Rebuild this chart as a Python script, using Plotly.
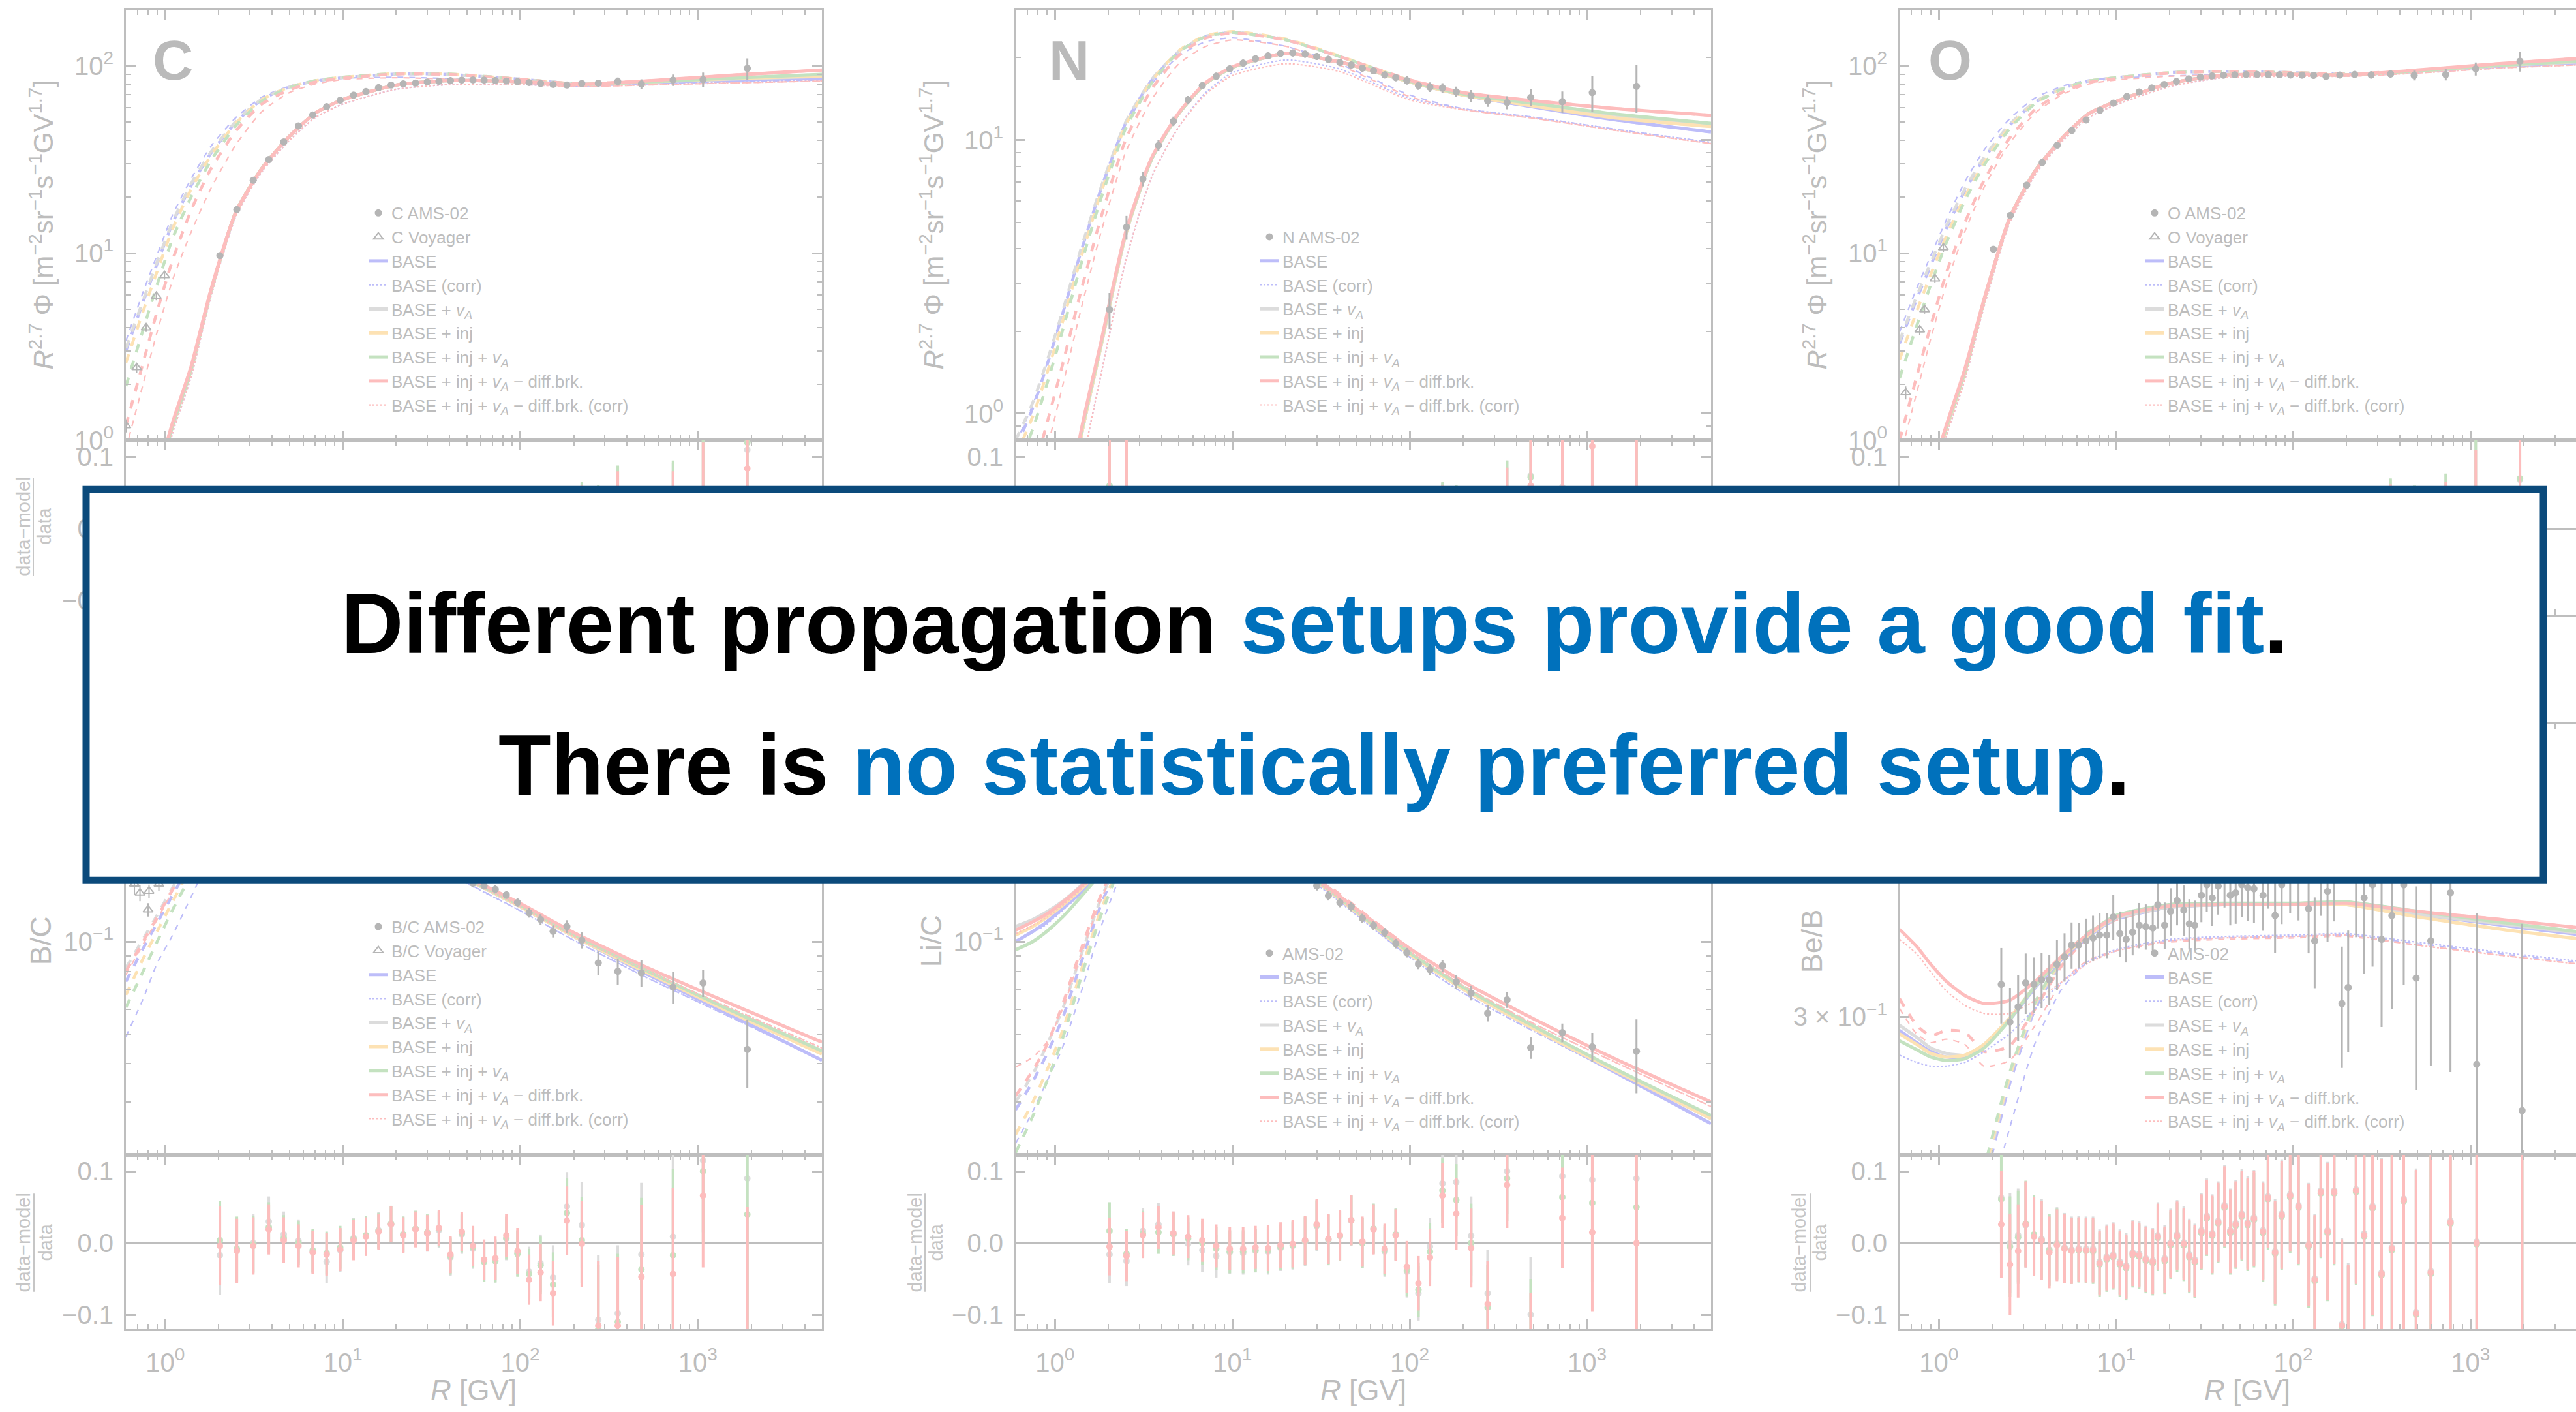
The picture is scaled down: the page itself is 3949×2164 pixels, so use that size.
import math
import plotly.graph_objects as go

W, H = 3949, 2164

# ------------------------------------------------------------------ data
R_MOD = [0.6, 0.75, 0.9, 1.1, 1.4, 1.8, 2.5, 3.5, 5, 7, 10, 20, 40, 100, 200, 500, 1500, 5000]

R_AMS = [2.03, 2.53, 3.13, 3.83, 4.65, 5.63, 6.77, 8.11, 9.67, 11.5, 13.5, 15.9, 18.7, 21.9, 25.7,
         29.9, 34.8, 40.4, 46.8, 54.1, 62.5, 72.3, 83.4, 96.4, 112, 130, 153, 183, 222, 275,
         354, 481, 725, 1070, 1900]

# ---- C
C_BASE = [0.12, 0.3, 0.6, 1.2, 2.4, 6.2, 16.5, 28.3, 42, 56, 66, 79, 83.5, 82.5, 79.5, 81.5, 84, 86]
C_BASE_CORR = [0.1, 0.26, 0.55, 1.1, 2.2, 5.8, 15.8, 27.2, 40, 53, 62.5, 75, 79.5, 79.5, 78, 80, 82, 84]
C_VA = [0.12, 0.3, 0.6, 1.2, 2.4, 6.2, 16.6, 28.4, 42, 56, 66, 79, 83.5, 82.5, 79.5, 82, 85, 88]
C_INJ = [0.12, 0.3, 0.6, 1.2, 2.4, 6.2, 16.6, 28.4, 42, 56, 66, 79, 83.5, 82.5, 79.5, 82, 85.5, 88.5]
C_INJVA = [0.12, 0.3, 0.6, 1.2, 2.4, 6.2, 16.6, 28.4, 42, 56, 66, 79, 83.5, 82.5, 79.5, 82, 86, 90]
C_BRK = [0.13, 0.32, 0.63, 1.25, 2.5, 6.3, 16.6, 28.3, 42, 56, 66, 79, 83.5, 82.5, 79.5, 83, 89, 95]
C_BRK_CORR = [0.1, 0.26, 0.55, 1.1, 2.2, 5.8, 15.8, 27.2, 40, 53, 62.5, 75, 79.5, 79.5, 77.5, 79, 81, 83]
C_BASE_LIS = [3.0, 5.5, 8.8, 14.5, 23, 34, 50, 66, 77, 83, 86.5, 90.5, 90, 85, 80.5, 81.5, 84, 86]
C_BASE_CORR_LIS = [3.4, 6.2, 9.8, 16, 25, 37, 53, 68, 78, 83.5, 86, 87, 85.5, 82, 78, 80, 82, 84]
C_VA_LIS = [3.1, 5.6, 9.0, 14.7, 23.5, 34.5, 50.5, 66.5, 77, 83, 86.5, 90.5, 90, 85, 80.5, 82, 85, 88]
C_INJ_LIS = [2.6, 4.9, 8.0, 13.5, 22, 33, 49.5, 66, 77, 83.5, 87, 91, 90.5, 85, 80.5, 82, 85.5, 88.5]
C_INJVA_LIS = [1.95, 3.9, 6.8, 12, 20, 31, 48, 65, 76.5, 83.5, 87, 91, 90.5, 85, 80.5, 82, 86, 90]
C_BRK_LIS = [1.2, 2.6, 4.9, 9.2, 17, 28, 45, 62.5, 74.5, 82, 86, 90.5, 90, 85, 80.5, 83, 89, 95]
C_BRK_CORR_LIS = [0.9, 2.0, 3.8, 7.2, 13, 22, 38, 57, 72, 80, 84.5, 86.5, 85, 81, 77.5, 79, 81, 83]
C_DATA = [9.7, 17.1, 24.5, 31.6, 39.3, 47.8, 54.7, 60.5, 65.6, 69.8, 73.0, 76.5, 79.0, 80.2, 81.0,
          82.0, 82.8, 83.5, 84.0, 84.2, 84.0, 83.6, 83.0, 82.4, 81.5, 80.5, 79.6, 79.0, 80.5, 80.9,
          82.6, 80.0, 84.0, 84.5, 97.0]
C_ERR = [0.04, 0.03, 0.025, 0.022, 0.02, 0.02, 0.02, 0.02, 0.02, 0.02, 0.02, 0.02, 0.02, 0.02, 0.02,
         0.02, 0.02, 0.02, 0.02, 0.02, 0.022, 0.022, 0.024, 0.025, 0.027, 0.03, 0.032, 0.035, 0.04, 0.045,
         0.05, 0.06, 0.07, 0.09, 0.13]
C_RES_RED = [0.01, -0.005, 0.008, 0.0, -0.01, 0.005, 0.01, -0.004, 0.003, 0.006, -0.002, 0.004, 0.0, -0.006, 0.003,
             0.008, 0.002, -0.004, 0.005, 0.0, -0.003, 0.006, 0.002, -0.005, 0.01, -0.01, 0.004, -0.012, 0.02, 0.01,
             0.03, -0.02, 0.01, 0.03, 0.084]
C_RES_GREEN = [0.015, -0.002, 0.01, 0.002, -0.008, 0.006, 0.011, -0.003, 0.004, 0.007, -0.001, 0.005, 0.001, -0.005, 0.004,
               0.009, 0.003, -0.003, 0.006, 0.001, -0.002, 0.007, 0.003, -0.004, 0.012, -0.008, 0.007, -0.008, 0.025, 0.016,
               0.038, -0.01, 0.025, 0.05, 0.12]
C_RES_GRAY = [0.005, -0.008, 0.006, -0.002, -0.012, 0.004, 0.009, -0.005, 0.002, 0.005, -0.003, 0.003, -0.001, -0.007, 0.002,
              0.007, 0.001, -0.005, 0.004, -0.001, -0.004, 0.005, 0.001, -0.006, 0.011, -0.009, 0.006, -0.01, 0.023, 0.014,
              0.036, -0.012, 0.022, 0.045, 0.11]
C_VOY_R = [0.6, 0.69, 0.78, 0.89, 0.99]
C_VOY = [1.2, 2.45, 4.0, 5.9, 7.6]

# ---- N
N_BASE = [0.02, 0.07, 0.16, 0.33, 0.82, 1.72, 4.5, 8.5, 12.5, 16.0, 18.4, 20.7, 19.3, 16.3, 14.6, 13.2, 11.8, 10.7]
N_BASE_CORR = [0.015, 0.05, 0.12, 0.26, 0.62, 1.35, 3.6, 7.3, 11.2, 14.8, 17.6, 19.6, 18.2, 14.2, 13.0, 12.1, 10.9, 9.8]
N_VA = [0.02, 0.07, 0.16, 0.33, 0.82, 1.72, 4.5, 8.5, 12.5, 16.0, 18.4, 20.7, 19.3, 16.3, 14.7, 13.5, 12.3, 11.3]
N_INJ = [0.02, 0.07, 0.16, 0.33, 0.82, 1.72, 4.5, 8.5, 12.5, 16.0, 18.4, 20.7, 19.3, 16.3, 14.6, 13.3, 12.0, 11.2]
N_INJVA = [0.02, 0.07, 0.16, 0.33, 0.84, 1.75, 4.55, 8.5, 12.5, 16.0, 18.4, 20.7, 19.3, 16.4, 14.7, 13.6, 12.4, 11.5]
N_BRK = [0.02, 0.07, 0.16, 0.34, 0.86, 1.78, 4.6, 8.6, 12.6, 16.1, 18.5, 20.7, 19.3, 16.5, 14.9, 13.9, 13.0, 12.3]
N_BRK_CORR = [0.015, 0.05, 0.12, 0.26, 0.62, 1.35, 3.6, 7.3, 11.2, 14.6, 17.2, 19.0, 17.8, 14.0, 12.9, 12.0, 10.8, 9.7]
N_BASE_LIS = [0.75, 1.05, 1.5, 2.3, 3.9, 6.5, 11.5, 16.5, 21, 23.8, 24.7, 23.2, 20.2, 16.5, 14.6, 13.2, 11.8, 10.7]
N_BASE_CORR_LIS = [0.78, 1.08, 1.52, 2.3, 3.9, 6.4, 11.2, 16.0, 20.3, 22.8, 23.6, 22.0, 19.0, 14.6, 13.0, 12.1, 10.9, 9.8]
N_VA_LIS = [0.8, 1.1, 1.55, 2.35, 4.0, 6.6, 11.6, 16.6, 21.1, 23.9, 24.8, 23.3, 20.2, 16.5, 14.7, 13.5, 12.3, 11.3]
N_INJ_LIS = [0.7, 0.98, 1.4, 2.15, 3.7, 6.3, 11.3, 16.4, 21.2, 24.0, 24.9, 23.4, 20.3, 16.5, 14.6, 13.3, 12.0, 11.2]
N_INJVA_LIS = [0.62, 0.88, 1.28, 2.0, 3.5, 6.0, 11.0, 16.1, 21.0, 23.8, 24.7, 23.2, 20.2, 16.5, 14.7, 13.6, 12.4, 11.5]
N_BRK_LIS = [0.4, 0.6, 0.92, 1.5, 2.8, 5.1, 10.0, 15.3, 20.4, 23.5, 24.6, 23.2, 20.2, 16.6, 14.9, 13.9, 13.0, 12.3]
N_BRK_CORR_LIS = [0.3, 0.47, 0.74, 1.25, 2.4, 4.5, 9.0, 14.0, 19.0, 21.9, 23.2, 22.0, 18.8, 14.4, 12.9, 12.0, 10.8, 9.7]
N_DATA = [2.4, 4.8, 7.2, 9.55, 11.7, 14.0, 15.8, 17.1, 18.2, 19.1, 19.8, 20.3, 20.7, 20.8, 20.6,
          20.2, 19.7, 19.2, 18.8, 18.3, 17.9, 17.3, 16.9, 16.5, 15.8, 15.6, 15.5, 15.0, 14.5, 13.9,
          13.7, 14.3, 13.8, 14.9, 15.7]
N_ERR = [0.15, 0.1, 0.06, 0.045, 0.04, 0.035, 0.03, 0.03, 0.03, 0.03, 0.03, 0.03, 0.03, 0.03, 0.03,
         0.03, 0.03, 0.03, 0.03, 0.03, 0.03, 0.03, 0.03, 0.035, 0.035, 0.04, 0.04, 0.045, 0.05, 0.05,
         0.055, 0.07, 0.09, 0.15, 0.2]
N_RES_RED = [0.05, 0.03, -0.01, 0.0, 0.005, -0.008, 0.01, 0.004, -0.005, 0.0, 0.006, -0.004, 0.002, 0.008, -0.002,
             0.004, -0.006, 0.0, 0.005, -0.003, 0.002, 0.006, -0.004, 0.003, -0.01, 0.01, 0.02, 0.01, 0.0, -0.02,
             0.03, 0.06, 0.04, 0.115, 0.2]
N_RES_GREEN = [0.06, 0.035, -0.006, 0.003, 0.007, -0.006, 0.011, 0.005, -0.004, 0.001, 0.007, -0.003, 0.003, 0.009, -0.001,
               0.005, -0.005, 0.001, 0.006, -0.002, 0.003, 0.008, -0.002, 0.005, -0.007, 0.014, 0.025, 0.016, 0.007, -0.012,
               0.04, 0.072, 0.055, 0.13, 0.22]
N_RES_GRAY = [0.045, 0.028, -0.012, -0.002, 0.004, -0.009, 0.009, 0.003, -0.006, -0.001, 0.005, -0.005, 0.001, 0.007, -0.003,
              0.003, -0.007, -0.001, 0.004, -0.004, 0.001, 0.006, -0.003, 0.004, -0.008, 0.013, 0.024, 0.015, 0.006, -0.013,
              0.04, 0.074, 0.058, 0.135, 0.23]

# ---- O
O_BASE = [0.12, 0.3, 0.6, 1.15, 2.3, 5.6, 15.2, 27.5, 41.5, 55.5, 64.5, 80.5, 89.0, 90.0, 89.5, 93.5, 100, 105]
O_BASE_CORR = [0.1, 0.26, 0.53, 1.05, 2.1, 5.2, 14.4, 26.3, 39.8, 53, 62, 77.5, 86.5, 88.5, 88.5, 92, 98, 103]
O_VA = [0.12, 0.3, 0.6, 1.15, 2.3, 5.6, 15.2, 27.5, 41.5, 55.5, 64.5, 80.5, 89.0, 90.0, 89.5, 93.5, 100.5, 106]
O_INJ = [0.12, 0.3, 0.6, 1.15, 2.3, 5.6, 15.2, 27.5, 41.5, 55.5, 64.5, 80.5, 89.0, 90.0, 89.5, 94, 101, 107]
O_INJVA = [0.12, 0.3, 0.6, 1.17, 2.32, 5.65, 15.3, 27.6, 41.5, 55.5, 64.5, 80.5, 89.0, 90.0, 89.5, 94, 101, 107]
O_BRK = [0.13, 0.32, 0.63, 1.2, 2.4, 5.7, 15.3, 27.5, 41.5, 55.5, 64.5, 80.5, 89.0, 90.0, 89.5, 95, 103, 111]
O_BRK_CORR = [0.1, 0.26, 0.53, 1.05, 2.1, 5.2, 14.4, 26.3, 39.8, 53, 62, 77.5, 86.5, 88, 88, 91.5, 97.5, 102]
O_BASE_LIS = [3.3, 5.7, 8.6, 13.5, 21.5, 32, 48, 64, 76, 83, 86.5, 92, 93.5, 92, 90.5, 93.5, 100, 105]
O_BASE_CORR_LIS = [3.8, 6.5, 9.7, 15, 24, 35.5, 52, 67.5, 78, 84, 86, 88.5, 89.5, 89.5, 88.5, 92, 98, 103]
O_VA_LIS = [3.4, 5.9, 8.9, 13.9, 22, 32.5, 48.5, 64.5, 76, 83, 86.5, 92, 93.5, 92, 90.5, 94, 100.5, 106]
O_INJ_LIS = [2.7, 4.9, 7.7, 12.3, 20, 30.5, 47, 63.5, 75.5, 83, 86.5, 92, 93.5, 92, 90.5, 94, 101, 107]
O_INJVA_LIS = [2.15, 4.1, 6.8, 11.3, 19, 29.5, 46, 63, 75.5, 83, 86.5, 92, 93.5, 92, 90.5, 94, 101, 107]
O_BRK_LIS = [1.0, 2.2, 4.1, 7.8, 14.5, 24.5, 41, 58.5, 72.5, 81.5, 85.5, 91.5, 93.5, 92, 90.5, 95, 103, 111]
O_BRK_CORR_LIS = [0.8, 1.8, 3.5, 6.8, 13, 22.5, 38.5, 56, 70.5, 80, 84, 88, 89, 89, 88, 91.5, 97.5, 102]
O_DATA = [10.5, 15.9, 23.1, 30.5, 37.7, 45.2, 51.4, 57.9, 63.3, 68.7, 72.6, 76.3, 79.6, 82.6, 85.3,
          87.1, 88.4, 89.2, 89.7, 90.0, 90.0, 89.9, 89.7, 89.4, 89.2, 89.0, 87.8, 89.4, 90.0, 89.5,
          90.6, 89.0, 89.9, 96.5, 106]
O_ERR = [0.04, 0.03, 0.025, 0.022, 0.02, 0.02, 0.02, 0.02, 0.02, 0.02, 0.02, 0.02, 0.02, 0.02, 0.02,
         0.02, 0.02, 0.02, 0.02, 0.02, 0.022, 0.022, 0.024, 0.025, 0.027, 0.03, 0.032, 0.035, 0.04, 0.045,
         0.05, 0.06, 0.07, 0.08, 0.12]
O_RES_RED = [0.005, 0.0, -0.006, 0.004, 0.008, -0.003, 0.002, 0.006, -0.004, 0.001, 0.003, -0.002, 0.004, 0.0, -0.005,
             0.003, 0.006, 0.0, -0.002, 0.004, 0.001, -0.003, 0.002, 0.005, -0.004, 0.0, -0.015, 0.005, 0.01, 0.0,
             0.012, -0.01, -0.005, 0.03, 0.05]
O_RES_GREEN = [0.009, 0.003, -0.003, 0.006, 0.01, -0.001, 0.003, 0.007, -0.003, 0.002, 0.004, -0.001, 0.005, 0.001, -0.004,
               0.004, 0.007, 0.001, -0.001, 0.005, 0.002, -0.002, 0.003, 0.006, -0.002, 0.003, -0.011, 0.01, 0.016, 0.007,
               0.02, 0.0, 0.007, 0.045, 0.07]
O_RES_GRAY = [0.002, -0.003, -0.008, 0.002, 0.007, -0.004, 0.001, 0.005, -0.005, 0.0, 0.002, -0.003, 0.003, -0.001, -0.006,
              0.002, 0.005, -0.001, -0.003, 0.003, 0.0, -0.004, 0.001, 0.004, -0.003, 0.002, -0.012, 0.009, 0.015, 0.006,
              0.019, -0.001, 0.006, 0.043, 0.068]
O_VOY_R = [0.65, 0.78, 0.83, 0.95, 1.06]
O_VOY = [1.8, 3.9, 5.0, 7.3, 10.7]

# ---- B/C
BC_BASE = [0.26, 0.27, 0.28, 0.29, 0.30, 0.305, 0.31, 0.31, 0.30, 0.283, 0.258, 0.207, 0.17, 0.13, 0.104, 0.079, 0.058, 0.041]
BC_BASE_CORR = [0.245, 0.255, 0.265, 0.276, 0.287, 0.295, 0.302, 0.304, 0.296, 0.28, 0.255, 0.203, 0.165, 0.126, 0.101, 0.077, 0.057, 0.041]
BC_VA = [0.265, 0.275, 0.285, 0.295, 0.303, 0.308, 0.312, 0.311, 0.301, 0.284, 0.259, 0.208, 0.17, 0.13, 0.104, 0.08, 0.06, 0.044]
BC_INJ = [0.255, 0.265, 0.275, 0.286, 0.297, 0.303, 0.309, 0.31, 0.3, 0.283, 0.258, 0.207, 0.17, 0.13, 0.104, 0.08, 0.059, 0.043]
BC_INJVA = [0.25, 0.26, 0.27, 0.282, 0.294, 0.301, 0.308, 0.309, 0.3, 0.283, 0.258, 0.208, 0.171, 0.131, 0.105, 0.081, 0.06, 0.044]
BC_BRK = [0.265, 0.275, 0.285, 0.295, 0.303, 0.308, 0.312, 0.311, 0.301, 0.285, 0.26, 0.21, 0.173, 0.133, 0.107, 0.083, 0.063, 0.047]
BC_BRK_CORR = [0.26, 0.27, 0.28, 0.29, 0.299, 0.305, 0.31, 0.309, 0.3, 0.283, 0.258, 0.207, 0.17, 0.13, 0.104, 0.081, 0.061, 0.045]
BC_BASE_LIS = [0.074, 0.095, 0.115, 0.142, 0.18, 0.23, 0.29, 0.32, 0.315, 0.293, 0.265, 0.21, 0.171, 0.13, 0.104, 0.079, 0.058, 0.041]
BC_BASE_CORR_LIS = [0.049, 0.065, 0.085, 0.105, 0.14, 0.19, 0.26, 0.3, 0.305, 0.287, 0.26, 0.205, 0.166, 0.126, 0.101, 0.077, 0.057, 0.041]
BC_VA_LIS = [0.082, 0.102, 0.122, 0.15, 0.19, 0.24, 0.30, 0.325, 0.318, 0.295, 0.266, 0.21, 0.171, 0.13, 0.104, 0.08, 0.06, 0.044]
BC_INJ_LIS = [0.067, 0.088, 0.108, 0.135, 0.175, 0.225, 0.285, 0.318, 0.315, 0.294, 0.266, 0.21, 0.171, 0.13, 0.104, 0.08, 0.059, 0.043]
BC_INJVA_LIS = [0.061, 0.08, 0.1, 0.127, 0.165, 0.215, 0.28, 0.315, 0.314, 0.294, 0.266, 0.211, 0.172, 0.131, 0.105, 0.081, 0.06, 0.044]
BC_BRK_LIS = [0.08, 0.1, 0.12, 0.148, 0.188, 0.238, 0.3, 0.325, 0.318, 0.296, 0.268, 0.213, 0.174, 0.133, 0.107, 0.083, 0.063, 0.047]
BC_BRK_CORR_LIS = [0.078, 0.098, 0.118, 0.146, 0.185, 0.235, 0.297, 0.322, 0.315, 0.293, 0.265, 0.21, 0.171, 0.13, 0.104, 0.081, 0.061, 0.045]
BC_DATA = [0.295, 0.305, 0.31, 0.31, 0.305, 0.295, 0.285, 0.272, 0.26, 0.247, 0.235, 0.222, 0.21, 0.199, 0.189,
           0.18, 0.172, 0.166, 0.16, 0.155, 0.152, 0.148, 0.142, 0.134, 0.124, 0.118, 0.108, 0.112, 0.101, 0.0852,
           0.080, 0.079, 0.071, 0.0733, 0.0445]
BC_ERR = [0.055, 0.045, 0.04, 0.035, 0.032, 0.03, 0.03, 0.03, 0.03, 0.028, 0.027, 0.025, 0.025, 0.025, 0.025,
          0.025, 0.025, 0.026, 0.027, 0.028, 0.028, 0.03, 0.03, 0.032, 0.035, 0.04, 0.045, 0.048, 0.06, 0.09,
          0.095, 0.1, 0.12, 0.1, 0.25]
BC_RES_RED = [-0.004, -0.011, -0.004, 0.019, 0.004, -0.004, -0.013, -0.016, -0.009, 0.004, 0.009, 0.016, 0.026, 0.011, 0.019,
              0.014, 0.021, -0.016, 0.016, -0.004, -0.023, -0.021, 0.011, -0.011, -0.051, -0.041, -0.07, 0.031, -0.001, -0.115,
              -0.115, -0.047, -0.043, 0.066, -0.2]
BC_RES_GREEN = [0.004, -0.008, -0.002, 0.022, 0.007, 0.0, -0.01, -0.014, -0.006, 0.006, 0.011, 0.017, 0.027, 0.012, 0.02,
                0.015, 0.02, -0.018, 0.014, -0.006, -0.026, -0.025, 0.007, -0.015, -0.043, -0.031, -0.058, 0.042, 0.004, -0.12,
                -0.11, -0.037, -0.017, 0.1, 0.04]
BC_RES_GRAY = [-0.017, -0.01, 0.0, 0.03, 0.012, 0.003, -0.012, -0.026, -0.01, 0.007, 0.01, 0.018, 0.026, 0.012, 0.02,
               0.013, 0.018, -0.02, 0.012, -0.008, -0.026, -0.025, 0.006, -0.014, -0.04, -0.028, -0.048, 0.051, 0.025, -0.107,
               -0.098, -0.016, 0.009, 0.115, 0.09]
BC_VOY_R = [0.67, 0.72, 0.8, 0.81, 0.92]
BC_VOY = [0.154, 0.144, 0.127, 0.146, 0.154]

# ---- Li/C
LIC_BASE = [0.1, 0.108, 0.116, 0.128, 0.145, 0.17, 0.215, 0.26, 0.278, 0.266, 0.244, 0.187, 0.138, 0.091, 0.07, 0.052, 0.037, 0.0255]
LIC_BASE_CORR = [0.1, 0.107, 0.114, 0.126, 0.143, 0.168, 0.212, 0.256, 0.274, 0.262, 0.24, 0.183, 0.135, 0.089, 0.068, 0.051, 0.037, 0.0255]
LIC_VA = [0.112, 0.118, 0.125, 0.135, 0.152, 0.176, 0.218, 0.262, 0.279, 0.266, 0.244, 0.187, 0.138, 0.091, 0.07, 0.052, 0.0375, 0.0265]
LIC_INJ = [0.105, 0.112, 0.12, 0.131, 0.148, 0.173, 0.216, 0.261, 0.278, 0.266, 0.244, 0.187, 0.138, 0.091, 0.07, 0.052, 0.0375, 0.0265]
LIC_INJVA = [0.094, 0.1, 0.108, 0.12, 0.14, 0.166, 0.212, 0.259, 0.278, 0.266, 0.244, 0.188, 0.139, 0.092, 0.071, 0.053, 0.038, 0.0271]
LIC_BRK = [0.109, 0.116, 0.123, 0.134, 0.151, 0.175, 0.218, 0.262, 0.279, 0.267, 0.246, 0.19, 0.141, 0.095, 0.074, 0.056, 0.041, 0.030]
LIC_BRK_CORR = [0.106, 0.113, 0.12, 0.131, 0.148, 0.172, 0.215, 0.259, 0.276, 0.264, 0.243, 0.187, 0.138, 0.093, 0.072, 0.054, 0.04, 0.029]
LIC_BASE_LIS = [0.0283, 0.035, 0.043, 0.056, 0.085, 0.13, 0.2, 0.26, 0.285, 0.273, 0.25, 0.19, 0.14, 0.091, 0.07, 0.052, 0.037, 0.0255]
LIC_BASE_CORR_LIS = [0.022, 0.028, 0.035, 0.045, 0.068, 0.11, 0.18, 0.245, 0.278, 0.268, 0.246, 0.186, 0.136, 0.089, 0.068, 0.051, 0.037, 0.0255]
LIC_VA_LIS = [0.03, 0.037, 0.046, 0.06, 0.09, 0.136, 0.205, 0.263, 0.287, 0.274, 0.25, 0.19, 0.14, 0.091, 0.07, 0.052, 0.0375, 0.0265]
LIC_INJ_LIS = [0.0235, 0.03, 0.038, 0.051, 0.08, 0.125, 0.196, 0.257, 0.284, 0.273, 0.25, 0.19, 0.14, 0.091, 0.07, 0.052, 0.0375, 0.0265]
LIC_INJVA_LIS = [0.0205, 0.027, 0.035, 0.048, 0.076, 0.12, 0.192, 0.255, 0.283, 0.273, 0.25, 0.191, 0.141, 0.092, 0.071, 0.053, 0.038, 0.0271]
LIC_BRK_LIS = [0.0314, 0.038, 0.046, 0.062, 0.094, 0.14, 0.21, 0.266, 0.289, 0.276, 0.252, 0.193, 0.143, 0.095, 0.074, 0.056, 0.041, 0.030]
LIC_BRK_CORR_LIS = [0.039, 0.042, 0.047, 0.06, 0.09, 0.135, 0.205, 0.262, 0.286, 0.274, 0.25, 0.19, 0.14, 0.093, 0.072, 0.054, 0.04, 0.029]
LIC_DATA = [0.27, 0.28, 0.285, 0.283, 0.277, 0.27, 0.262, 0.252, 0.243, 0.232, 0.22, 0.207, 0.194, 0.181, 0.167,
            0.152, 0.141, 0.134, 0.13, 0.119, 0.113, 0.107, 0.0985, 0.092, 0.0845, 0.081, 0.0834, 0.074, 0.068, 0.0584,
            0.0646, 0.0451, 0.0505, 0.0454, 0.0439]
LIC_ERR = [0.04, 0.035, 0.032, 0.03, 0.03, 0.03, 0.03, 0.03, 0.03, 0.03, 0.03, 0.032, 0.032, 0.033, 0.034,
           0.035, 0.035, 0.035, 0.035, 0.035, 0.035, 0.035, 0.036, 0.036, 0.038, 0.04, 0.045, 0.05, 0.055, 0.06,
           0.06, 0.08, 0.07, 0.11, 0.27]
LIC_RES_RED = [-0.005, -0.018, 0.011, 0.022, 0.014, 0.009, 0.004, -0.004, -0.008, -0.008, -0.006, -0.007, -0.003, -0.001, 0.004,
               0.026, 0.006, 0.011, 0.032, 0.002, 0.019, -0.008, 0.011, -0.033, -0.056, -0.02, 0.066, 0.041, -0.007, -0.085,
               0.081, -0.15, 0.035, 0.015, 0.0]
LIC_RES_GREEN = [0.017, -0.015, 0.013, 0.015, 0.012, 0.006, 0.0, -0.008, -0.012, -0.012, -0.01, -0.01, -0.006, -0.003, 0.003,
                 0.025, 0.005, 0.01, 0.032, 0.0, 0.02, -0.01, 0.012, -0.038, -0.065, -0.012, 0.073, 0.06, 0.0, -0.09,
                 0.09, -0.13, 0.064, 0.056, 0.05]
LIC_RES_GRAY = [-0.016, -0.025, 0.017, 0.026, 0.014, -0.001, -0.01, -0.018, -0.013, -0.014, -0.011, -0.012, -0.007, -0.004, 0.002,
                0.024, 0.004, 0.01, 0.031, 0.0, 0.02, -0.012, 0.012, -0.04, -0.07, -0.005, 0.083, 0.085, 0.01, -0.07,
                0.1, -0.1, 0.093, 0.088, 0.09]

# ---- Be/B
BEB_BASE = [0.292, 0.285, 0.28, 0.277, 0.277, 0.283, 0.298, 0.318, 0.337, 0.352, 0.365, 0.373, 0.375, 0.375, 0.375, 0.368, 0.36, 0.352]
BEB_BASE_CORR = [0.278, 0.274, 0.272, 0.272, 0.274, 0.28, 0.29, 0.305, 0.322, 0.335, 0.343, 0.35, 0.352, 0.353, 0.354, 0.348, 0.341, 0.334]
BEB_VA = [0.295, 0.288, 0.282, 0.279, 0.278, 0.284, 0.299, 0.319, 0.338, 0.353, 0.365, 0.373, 0.375, 0.375, 0.376, 0.368, 0.361, 0.353]
BEB_INJ = [0.29, 0.284, 0.279, 0.277, 0.278, 0.284, 0.299, 0.319, 0.338, 0.353, 0.366, 0.374, 0.375, 0.375, 0.375, 0.366, 0.357, 0.349]
BEB_INJVA = [0.286, 0.281, 0.277, 0.275, 0.276, 0.282, 0.298, 0.319, 0.339, 0.354, 0.367, 0.375, 0.376, 0.376, 0.377, 0.37, 0.362, 0.354]
BEB_BRK = [0.357, 0.345, 0.333, 0.322, 0.313, 0.308, 0.31, 0.322, 0.339, 0.354, 0.366, 0.374, 0.375, 0.375, 0.376, 0.37, 0.364, 0.357]
BEB_BRK_CORR = [0.35, 0.34, 0.328, 0.316, 0.307, 0.302, 0.302, 0.31, 0.322, 0.334, 0.342, 0.349, 0.351, 0.352, 0.353, 0.346, 0.339, 0.332]
BEB_BASE_LIS = [0.1, 0.12, 0.14, 0.165, 0.19, 0.215, 0.262, 0.305, 0.335, 0.353, 0.364, 0.373, 0.375, 0.375, 0.375, 0.368, 0.36, 0.352]
BEB_BASE_CORR_LIS = [0.1, 0.12, 0.14, 0.16, 0.18, 0.2, 0.24, 0.285, 0.318, 0.335, 0.342, 0.349, 0.351, 0.352, 0.353, 0.347, 0.34, 0.333]
BEB_VA_LIS = [0.1, 0.12, 0.14, 0.165, 0.19, 0.218, 0.265, 0.307, 0.336, 0.354, 0.365, 0.373, 0.375, 0.375, 0.376, 0.368, 0.361, 0.353]
BEB_INJ_LIS = [0.1, 0.12, 0.14, 0.165, 0.19, 0.22, 0.266, 0.308, 0.337, 0.354, 0.365, 0.374, 0.375, 0.375, 0.375, 0.366, 0.357, 0.349]
BEB_INJVA_LIS = [0.1, 0.12, 0.14, 0.165, 0.19, 0.222, 0.268, 0.309, 0.338, 0.355, 0.366, 0.375, 0.376, 0.376, 0.377, 0.37, 0.362, 0.354]
BEB_BRK_LIS = [0.311, 0.295, 0.289, 0.292, 0.291, 0.28, 0.283, 0.305, 0.333, 0.352, 0.364, 0.373, 0.375, 0.375, 0.376, 0.37, 0.364, 0.357]
BEB_BRK_CORR_LIS = [0.305, 0.29, 0.285, 0.287, 0.284, 0.272, 0.275, 0.295, 0.322, 0.336, 0.342, 0.348, 0.35, 0.351, 0.352, 0.346, 0.339, 0.332]
BEB_R = [2.25, 2.52, 2.8, 3.09, 3.44, 3.8, 4.2, 4.64, 5.12, 5.61, 6.15, 6.76, 7.41, 8.07, 8.85, 9.64, 10.5, 11.4, 12.4, 13.5,
         14.7, 16.1, 17.2, 18.8, 20.3, 22.1, 24.1, 25.9, 27.8, 30.3, 32.5, 34.9, 37.7, 40.9, 44.1, 47.3, 51.2, 55.3, 60.0, 67.5,
         72.0, 78.9, 86.0, 96.0, 107, 122, 132, 143, 156, 170, 188, 204, 226, 251, 280, 315, 360, 420, 493, 597,
         771, 1084, 1954]
BEB_DATA = [0.320, 0.297, 0.306, 0.321, 0.320, 0.323, 0.323, 0.333, 0.338, 0.346, 0.346, 0.349, 0.351, 0.353, 0.353, 0.366, 0.354, 0.350, 0.355, 0.360,
            0.359, 0.358, 0.375, 0.360, 0.370, 0.378, 0.371, 0.361, 0.360, 0.382, 0.390, 0.380, 0.389, 0.395, 0.382, 0.384, 0.390, 0.388, 0.387, 0.382,
            0.400, 0.367, 0.390, 0.400, 0.395, 0.372, 0.349, 0.403, 0.385, 0.403, 0.308, 0.318, 0.404, 0.380, 0.390, 0.350, 0.367, 0.390, 0.324, 0.349,
            0.384, 0.273, 0.249]
BEB_ERR = [0.075, 0.07, 0.065, 0.06, 0.055, 0.055, 0.05, 0.05, 0.048, 0.046, 0.045, 0.045, 0.045, 0.045, 0.045, 0.045, 0.045, 0.045, 0.045, 0.045,
           0.045, 0.045, 0.046, 0.046, 0.047, 0.048, 0.05, 0.05, 0.05, 0.052, 0.052, 0.054, 0.055, 0.056, 0.058, 0.06, 0.062, 0.064, 0.066, 0.068,
           0.07, 0.072, 0.075, 0.078, 0.08, 0.085, 0.09, 0.09, 0.095, 0.1, 0.12, 0.12, 0.13, 0.14, 0.15, 0.16, 0.17, 0.18, 0.2, 0.22,
           0.3, 0.35, 0.45]
BEB_RES_RED = [0.026, -0.03, -0.011, 0.026, 0.009, 0.004, -0.013, -0.003, -0.008, -0.011, -0.009, -0.01, -0.01, -0.028, -0.021, -0.018, -0.028, -0.033, -0.015, -0.017,
               -0.023, -0.026, 0.009, -0.023, -0.001, 0.01, -0.001, -0.018, -0.025, 0.016, 0.036, 0.012, 0.029, 0.051, 0.016, 0.026, 0.039, 0.027, 0.034, 0.016,
               0.063, -0.013, 0.039, 0.066, 0.051, -0.003, -0.051, 0.071, 0.016, 0.071, -0.115, -0.15, 0.073, 0.011, 0.05, -0.043, -0.008, 0.06, -0.098, -0.041,
               0.029, 0.0, -0.25]
BEB_RES_GREEN = [0.061, -0.005, 0.008, 0.027, 0.012, 0.004, -0.01, -0.002, -0.008, -0.011, -0.01, -0.011, -0.012, -0.03, -0.023, -0.02, -0.03, -0.035, -0.017, -0.019,
                 -0.025, -0.028, 0.007, -0.025, -0.003, 0.008, -0.003, -0.02, -0.027, 0.014, 0.034, 0.01, 0.027, 0.049, 0.014, 0.024, 0.037, 0.025, 0.032, 0.014,
                 0.061, -0.015, 0.037, 0.064, 0.049, -0.005, -0.053, 0.069, 0.014, 0.069, -0.117, -0.152, 0.071, 0.009, 0.048, -0.045, -0.01, 0.058, -0.1, -0.043,
                 0.027, -0.002, -0.25]
BEB_RES_GRAY = [0.063, 0.0, 0.011, 0.025, 0.01, 0.006, -0.009, 0.0, -0.006, -0.009, -0.007, -0.008, -0.008, -0.026, -0.019, -0.016, -0.026, -0.031, -0.013, -0.015,
                -0.021, -0.024, 0.011, -0.021, 0.001, 0.012, 0.001, -0.016, -0.023, 0.018, 0.038, 0.014, 0.031, 0.053, 0.018, 0.028, 0.041, 0.029, 0.036, 0.018,
                0.065, -0.011, 0.041, 0.068, 0.053, -0.001, -0.049, 0.073, 0.018, 0.073, -0.113, -0.148, 0.075, 0.013, 0.052, -0.041, -0.006, 0.062, -0.096, -0.039,
                0.031, 0.002, -0.25]

VOY_ERR = [0.08, 0.06, 0.05, 0.05, 0.05]

SETUP_NAMES = ["BASE", "BASE (corr)", "BASE + <i>v<sub>A</sub></i>", "BASE + inj",
               "BASE + inj + <i>v<sub>A</sub></i>", "BASE + inj + <i>v<sub>A</sub></i> − diff.brk.",
               "BASE + inj + <i>v<sub>A</sub></i> − diff.brk. (corr)"]

X_TICKS = [1, 10, 100, 1000]
X_TICKTEXT = ["10<sup>0</sup>", "10<sup>1</sup>", "10<sup>2</sup>", "10<sup>3</sup>"]
X_MINOR = [0.6, 0.7, 0.8, 0.9, 2, 3, 4, 5, 6, 7, 8, 9, 20, 30, 40, 50, 60, 70, 80, 90,
           200, 300, 400, 500, 600, 700, 800, 900, 2000, 3000, 4000, 5000]
RES_TICKS = [-0.1, 0, 0.1]
RES_TICKTEXT = ["−0.1", "0.0", "0.1"]
RES_TICKTEXT_TOP_ONLY = ["", "", "0.1"]

TEXT_LINE1 = "Different propagation <span style='color:#0071bc'>setups provide a good fit</span>."
TEXT_LINE2 = "There is <span style='color:#0071bc'>no statistically preferred setup</span>."

# ------------------------------------------------------------------ style
BLUE, GRAY, ORANGE, GREEN, RED = "#bdbdf9", "#dcdcdc", "#fde2b4", "#c4e2c0", "#fdbdbd"
SETUP_STYLE = [(BLUE, "solid", 5), (BLUE, "dot", 2.2), (GRAY, "solid", 5), (ORANGE, "solid", 5),
               (GREEN, "solid", 5), (RED, "solid", 5), (RED, "dot", 2.2)]
DATA_C = "#b5b5b5"
AXC = "#bebebe"
TXTC = "#bdbdbd"
FONT = "Liberation Sans, Arial, sans-serif"
BOXC = "#0b4a7b"

COLS = [(193, 1260), (1557, 2623), (2912, 3949)]
ROWS = [((15, 682), (682, 952)), ((1121, 1788), (1788, 2058))]
LOG_LO = math.log10(0.6)
XR = [[LOG_LO, math.log10(5000)], [LOG_LO, math.log10(5000)], [LOG_LO, LOG_LO + 3.817]]

PANELS = [
    dict(mod=[C_BASE, C_BASE_CORR, C_VA, C_INJ, C_INJVA, C_BRK, C_BRK_CORR],
         lis=[C_BASE_LIS, C_BASE_CORR_LIS, C_VA_LIS, C_INJ_LIS, C_INJVA_LIS, C_BRK_LIS, C_BRK_CORR_LIS],
         R=R_AMS, data=C_DATA, err=C_ERR, res=[C_RES_GRAY, C_RES_GREEN, C_RES_RED],
         voy=(C_VOY_R, C_VOY, "C Voyager"), dname="C AMS-02",
         yr=[0, 2.3], yt=[1, 10, 100], ytt=["10<sup>0</sup>", "10<sup>1</sup>", "10<sup>2</sup>"],
         ym=[2, 3, 4, 5, 6, 7, 8, 9, 20, 30, 40, 50, 60, 70, 80, 90, 200], leg=(560, 306)),
    dict(mod=[N_BASE, N_BASE_CORR, N_VA, N_INJ, N_INJVA, N_BRK, N_BRK_CORR],
         lis=[N_BASE_LIS, N_BASE_CORR_LIS, N_VA_LIS, N_INJ_LIS, N_INJVA_LIS, N_BRK_LIS, N_BRK_CORR_LIS],
         R=R_AMS, data=N_DATA, err=N_ERR, res=[N_RES_GRAY, N_RES_GREEN, N_RES_RED],
         voy=None, dname="N AMS-02",
         yr=[-0.098, 1.476], yt=[1, 10], ytt=["10<sup>0</sup>", "10<sup>1</sup>"],
         ym=[0.9, 2, 3, 4, 5, 6, 7, 8, 9, 20, 30], leg=(1926, 343)),
    dict(mod=[O_BASE, O_BASE_CORR, O_VA, O_INJ, O_INJVA, O_BRK, O_BRK_CORR],
         lis=[O_BASE_LIS, O_BASE_CORR_LIS, O_VA_LIS, O_INJ_LIS, O_INJVA_LIS, O_BRK_LIS, O_BRK_CORR_LIS],
         R=R_AMS, data=O_DATA, err=O_ERR, res=[O_RES_GRAY, O_RES_GREEN, O_RES_RED],
         voy=(O_VOY_R, O_VOY, "O Voyager"), dname="O AMS-02",
         yr=[0, 2.3], yt=[1, 10, 100], ytt=["10<sup>0</sup>", "10<sup>1</sup>", "10<sup>2</sup>"],
         ym=[2, 3, 4, 5, 6, 7, 8, 9, 20, 30, 40, 50, 60, 70, 80, 90, 200], leg=(3283, 306)),
    dict(mod=[BC_BASE, BC_BASE_CORR, BC_VA, BC_INJ, BC_INJVA, BC_BRK, BC_BRK_CORR],
         lis=[BC_BASE_LIS, BC_BASE_CORR_LIS, BC_VA_LIS, BC_INJ_LIS, BC_INJVA_LIS, BC_BRK_LIS, BC_BRK_CORR_LIS],
         R=R_AMS, data=BC_DATA, err=BC_ERR, res=[BC_RES_GRAY, BC_RES_GREEN, BC_RES_RED],
         voy=(BC_VOY_R, BC_VOY, "B/C Voyager"), dname="B/C AMS-02",
         yr=[-1.695, -0.291], yt=[0.1], ytt=["10<sup>−1</sup>"],
         ym=[0.03, 0.04, 0.05, 0.06, 0.07, 0.08, 0.09, 0.2, 0.3, 0.4, 0.5], leg=(560, 1411)),
    dict(mod=[LIC_BASE, LIC_BASE_CORR, LIC_VA, LIC_INJ, LIC_INJVA, LIC_BRK, LIC_BRK_CORR],
         lis=[LIC_BASE_LIS, LIC_BASE_CORR_LIS, LIC_VA_LIS, LIC_INJ_LIS, LIC_INJVA_LIS, LIC_BRK_LIS, LIC_BRK_CORR_LIS],
         R=R_AMS, data=LIC_DATA, err=LIC_ERR, res=[LIC_RES_GRAY, LIC_RES_GREEN, LIC_RES_RED],
         voy=None, dname="AMS-02",
         yr=[-1.695, -0.291], yt=[0.1], ytt=["10<sup>−1</sup>"],
         ym=[0.03, 0.04, 0.05, 0.06, 0.07, 0.08, 0.09, 0.2, 0.3, 0.4, 0.5], leg=(1926, 1452)),
    dict(mod=[BEB_BASE, BEB_BASE_CORR, BEB_VA, BEB_INJ, BEB_INJVA, BEB_BRK, BEB_BRK_CORR],
         lis=[BEB_BASE_LIS, BEB_BASE_CORR_LIS, BEB_VA_LIS, BEB_INJ_LIS, BEB_INJVA_LIS, BEB_BRK_LIS, BEB_BRK_CORR_LIS],
         R=BEB_R, data=BEB_DATA, err=BEB_ERR, res=[BEB_RES_GRAY, BEB_RES_GREEN, BEB_RES_RED],
         voy=None, dname="AMS-02",
         yr=[-0.642, -0.27], yt=[0.3], ytt=["3 × 10<sup>−1</sup>"],
         ym=[], leg=(3283, 1452)),
]

# ------------------------------------------------------------------ build
fig = go.Figure()
layout = {}
annotations = []
shapes = []


def axn(n, k):
    return f"{k}axis" if n == 1 else f"{k}axis{n}"


def rf(n, k):
    return k if n == 1 else f"{k}{n}"


def px(p):
    return p / W


def py(p):
    return 1 - p / H


tickfont = dict(family=FONT, size=40, color=TXTC)
base_axis = dict(showgrid=False, zeroline=False, showline=True, linecolor=AXC, linewidth=3,
                 ticks="inside", ticklen=15, tickwidth=2.5, tickcolor=AXC, tickfont=tickfont)

for k, P in enumerate(PANELS):
    r, c = divmod(k, 3)
    nm, nr = 2 * k + 1, 2 * k + 2
    (mt, mb), (rt, rb) = ROWS[r]
    x0, x1 = COLS[c]
    leg = "legend" if k == 0 else f"legend{k + 1}"
    mirror_y = "allticks" if c < 2 else False
    xminor = dict(tickmode="array", tickvals=X_MINOR, ticks="inside", ticklen=8, tickwidth=2,
                  tickcolor=AXC, showgrid=False)
    xcommon = dict(base_axis, type="log", range=XR[c], domain=[px(x0), px(x1)],
                   tickmode="array", tickvals=X_TICKS, ticktext=X_TICKTEXT, mirror="allticks",
                   minor=xminor)
    layout[axn(nm, "x")] = dict(xcommon, anchor=rf(nm, "y"), showticklabels=False)
    # the top-row residual x labels sit under the message box: leave them out
    layout[axn(nr, "x")] = dict(xcommon, anchor=rf(nr, "y"), showticklabels=(r == 1), ticklabelstandoff=14)
    layout[axn(nm, "y")] = dict(base_axis, type="log", range=P["yr"], domain=[py(mb), py(mt)],
                                anchor=rf(nm, "x"), tickmode="array", tickvals=P["yt"], ticktext=P["ytt"],
                                mirror=mirror_y, ticklabelstandoff=8,
                                minor=dict(tickmode="array", tickvals=P["ym"], ticks="inside", ticklen=8,
                                           tickwidth=2, tickcolor=AXC, showgrid=False))
    res_text = RES_TICKTEXT if (r == 1 or c == 0) else RES_TICKTEXT_TOP_ONLY
    layout[axn(nr, "y")] = dict(base_axis, type="linear", range=[-0.12, 0.123], domain=[py(rb), py(rt)],
                                anchor=rf(nr, "x"), tickmode="array", tickvals=RES_TICKS,
                                ticktext=res_text, mirror=mirror_y, ticklabelstandoff=8,
                                zeroline=True, zerolinecolor=AXC, zerolinewidth=3)

    xm, ym_ = rf(nm, "x"), rf(nm, "y")
    # unmodulated (LIS) curves
    for i, (vals, (col, dash, wid)) in enumerate(zip(P["lis"], SETUP_STYLE)):
        thin = dash == "dot"
        fig.add_trace(go.Scatter(x=R_MOD, y=vals, mode="lines", xaxis=xm, yaxis=ym_,
                                 line=dict(color=col, dash="dash", width=2.2 if thin else 4.5,
                                           shape="spline", smoothing=0.6),
                                 showlegend=False, hoverinfo="skip"))
    # modulated curves
    for i, (vals, (col, dash, wid)) in enumerate(zip(P["mod"], SETUP_STYLE)):
        fig.add_trace(go.Scatter(x=R_MOD, y=vals, mode="lines", xaxis=xm, yaxis=ym_,
                                 line=dict(color=col, dash=dash, width=wid, shape="spline", smoothing=0.6),
                                 name=SETUP_NAMES[i], legend=leg, legendrank=10 + i))
    if P["voy"] is not None:
        vr, vv, vname = P["voy"]
        fig.add_trace(go.Scatter(x=vr, y=vv, mode="markers", xaxis=xm, yaxis=ym_,
                                 marker=dict(symbol="triangle-up-open", size=13, color=DATA_C,
                                             line=dict(width=2, color=DATA_C)),
                                 error_y=dict(type="data", array=[v * e for v, e in zip(vv, VOY_ERR)],
                                              color=DATA_C, thickness=2, width=0),
                                 name=vname, legend=leg, legendrank=2))
    fig.add_trace(go.Scatter(x=P["R"], y=P["data"], mode="markers", xaxis=xm, yaxis=ym_,
                             marker=dict(symbol="circle", size=11, color=DATA_C),
                             error_y=dict(type="data", array=[v * e for v, e in zip(P["data"], P["err"])],
                                          color=DATA_C, thickness=3, width=0),
                             name=P["dname"], legend=leg, legendrank=1))
    # residuals
    for res, col in zip(P["res"], [GRAY, GREEN, RED]):
        fig.add_trace(go.Scatter(x=P["R"], y=res, mode="markers", xaxis=rf(nr, "x"), yaxis=rf(nr, "y"),
                                 marker=dict(size=10, color=col),
                                 error_y=dict(type="data", array=P["err"], color=col, thickness=4, width=0),
                                 showlegend=False, hoverinfo="skip"))

    lx, ly = P["leg"]
    layout[leg] = dict(x=px(lx), y=py(ly), xanchor="left", yanchor="top", bgcolor="rgba(0,0,0,0)",
                       borderwidth=0, font=dict(family=FONT, size=26, color=TXTC), traceorder="normal")

# panel letters
for txt, cx in [("C", 265), ("N", 1639), ("O", 2989)]:
    annotations.append(dict(text=f"<b>{txt}</b>", x=px(cx), y=py(93), xref="paper", yref="paper",
                            showarrow=False, xanchor="center", yanchor="middle",
                            font=dict(family=FONT, size=86, color="#bababa")))

ytitle = "<i>R</i><sup>2.7</sup> Φ [m<sup>−2</sup>sr<sup>−1</sup>s<sup>−1</sup>GV<sup>1.7</sup>]"
for cx in [64, 1429, 2783]:
    annotations.append(dict(text=ytitle, x=px(cx), y=py(348), xref="paper", yref="paper", showarrow=False,
                            textangle=-90, xanchor="center", yanchor="middle",
                            font=dict(family=FONT, size=42, color=TXTC)))
for txt, cx in [("B/C", 62), ("Li/C", 1427), ("Be/B", 2777)]:
    annotations.append(dict(text=txt, x=px(cx), y=py(1457), xref="paper", yref="paper", showarrow=False,
                            textangle=-90, xanchor="center", yanchor="middle",
                            font=dict(family=FONT, size=45, color=TXTC)))
for cx in [726, 2090, 3445]:
    annotations.append(dict(text="<i>R</i> [GV]", x=px(cx), y=py(2152), xref="paper", yref="paper",
                            showarrow=False, xanchor="center", yanchor="middle",
                            font=dict(family=FONT, size=44, color=TXTC)))

# residual fraction labels
for (nx, dx, bx, cy, b0, b1) in [(36, 68, 51, 815, 740, 891), (36, 70, 52, 1924, 1848, 2000),
                                 (1403, 1435, 1418, 1924, 1848, 2000), (2758, 2790, 2775, 1924, 1848, 2000)]:
    annotations.append(dict(text="data−model", x=px(nx), y=py(cy), xref="paper", yref="paper",
                            showarrow=False, textangle=-90, xanchor="center", yanchor="middle",
                            font=dict(family=FONT, size=29, color="#c6c6c6")))
    annotations.append(dict(text="data", x=px(dx), y=py(cy), xref="paper", yref="paper",
                            showarrow=False, textangle=-90, xanchor="center", yanchor="middle",
                            font=dict(family=FONT, size=29, color="#c6c6c6")))
    shapes.append(dict(type="line", xref="paper", yref="paper", x0=px(bx), x1=px(bx), y0=py(b0), y1=py(b1),
                       line=dict(color="#c6c6c6", width=2), layer="above"))

# overlay message box
shapes.append(dict(type="rect", xref="paper", yref="paper", x0=px(132), x1=px(3899), y0=py(1363), y1=py(758),
                   line=dict(color=BOXC, width=11), fillcolor="white", layer="above"))
for txt, cy in [(TEXT_LINE1, 965), (TEXT_LINE2, 1185)]:
    annotations.append(dict(text=f"<b>{txt}</b>", x=px(2015), y=py(cy), xref="paper", yref="paper",
                            showarrow=False, xanchor="center", yanchor="middle",
                            font=dict(family=FONT, size=132, color="#000000")))

layout.update(width=W, height=H, autosize=False, margin=dict(l=0, r=0, t=0, b=0),
              paper_bgcolor="white", plot_bgcolor="white", showlegend=True,
              annotations=annotations, shapes=shapes)
fig.update_layout(**layout)
fig.write_html("out.html")
